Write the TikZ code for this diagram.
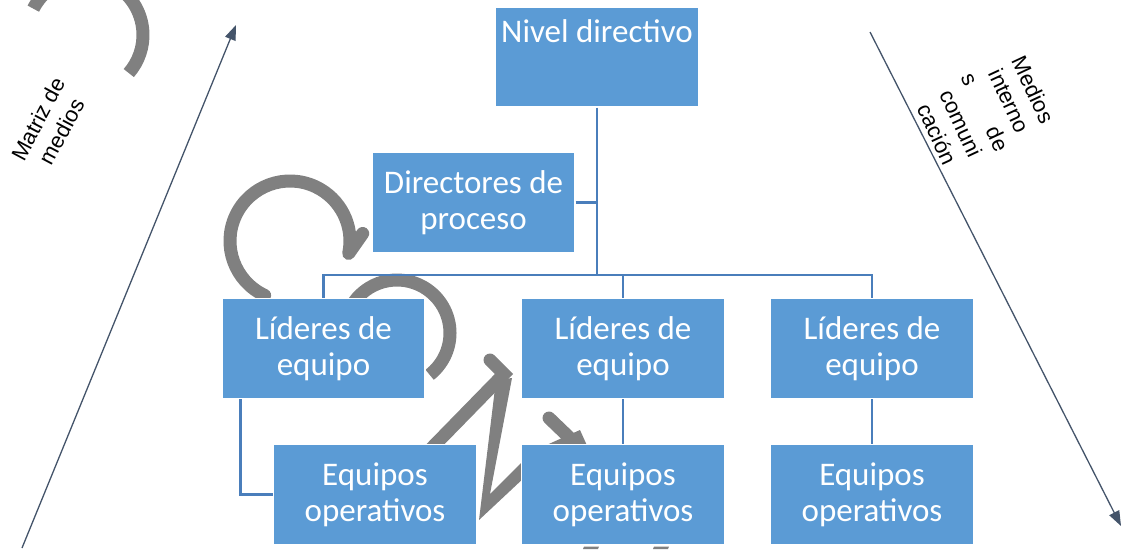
\documentclass[tikz,border=0pt]{standalone}
\usepackage{fontspec}
\setmainfont{Carlito}
\newfontfamily\arialf{Liberation Sans}
\usetikzlibrary{arrows.meta}
\definecolor{boxblue}{RGB}{91,155,213}
\definecolor{linkblue}{RGB}{74,126,187}
\definecolor{arrowgray}{RGB}{128,128,128}
\definecolor{slate}{RGB}{68,84,106}
\begin{document}
\begin{tikzpicture}[x=1pt,y={(0pt,-1pt)},
  box/.style={rectangle, fill=boxblue, draw=white, line width=1.2pt,
    minimum width=203pt, minimum height=100pt, inner sep=0pt,
    text=white, align=center, font=\fontsize{33}{36}\selectfont},
  boxtext/.style={text=white, inner sep=0pt, font=\fontsize{33}{36}\selectfont},
  link/.style={draw=linkblue, line width=2.8pt},
  grayarc/.style={draw=arrowgray, line width=13pt},
  side/.style={draw=slate, line width=1.3pt, -{Triangle[length=15pt,width=11pt]}},
  sidetext/.style={font=\arialf\fontsize{22}{26.5}\selectfont, align=center, inner sep=0pt}]

\useasboundingbox (0,0) rectangle (1123,549);
\clip (0,0) rectangle (1123,549);

% gray decorative arrows (behind the boxes)
\draw[grayarc] (85,35) ++(-153:58) arc[start angle=-153, end angle=41, radius=58];
\draw[grayarc, line cap=round, line join=round] (290,241) ++(115:60)
  arc[start angle=115, end angle=372, radius=60] -- ++(14,-20);
\draw[grayarc] (397,333) ++(-150:53) arc[start angle=-150, end angle=52, radius=53];
\fill[arrowgray] (496,380) -- (512,378) -- (490,494) -- (526,458) -- (526,476) -- (479,520) -- cycle;
\draw[grayarc, line cap=round, line join=miter] (490,360) -- (504,374) -- (420,460);
\draw[grayarc, line cap=round] (549,418) -- (575,443);
\fill[arrowgray] (542,447) -- (580,430) -- (598,470) -- cycle;
\fill[arrowgray] (584,546.5) -- (599,546.5) -- (598,549) -- (583,549) -- cycle;
\fill[arrowgray] (654,546.5) -- (669,546.5) -- (668,549) -- (653,549) -- cycle;

% boxes
\node[box] (nivel) at (597,57) {};
\node[boxtext, anchor=base] (nivelt) at (597,42) {Nivel directivo};
\node[box] (dir) at (473.5,202.5) {Directores de\\proceso};
\node[box] (l1) at (323.5,348.5) {Líderes de\\equipo};
\node[box] (l2) at (623,348.5) {Líderes de\\equipo};
\node[box] (l3) at (872,348.5) {Líderes de\\equipo};
\node[box] (e1) at (375,494.5) {Equipos\\operativos};
\node[box] (e2) at (623,494.5) {Equipos\\operativos};
\node[box] (e3) at (872,494.5) {Equipos\\operativos};

% connectors
\coordinate (bus) at (597,275);
\draw[link] (nivel.south) -- (bus);
\draw[link] (dir.east) -- (dir.east -| bus);
\draw[link] (l1.north) |- (bus);
\draw[link] (l3.north) |- (bus);
\draw[link] (l2.north) -- (l2.north |- bus);
\draw[link] ([xshift=19pt]l1.south west) |- (e1.west);
\draw[link] (l2.south) -- (e2.north);
\draw[link] (l3.south) -- (e3.north);

% side arrows
\coordinate (la) at (22,548);
\coordinate (lb) at (236,25);
\draw[side] (la) -- (lb);
\coordinate (ra) at (870,32);
\coordinate (rb) at (1121,526);
\draw[side] (ra) -- (rb);

% side texts
\node[sidetext, rotate=62] (mtx) at (50,125) {Matriz de\\medios};
\node[sidetext, rotate=-65] (mic) at (985,112) {Medios\\interno\\s\hspace{48pt}de\\comuni\\cación};
\end{tikzpicture}
\end{document}
